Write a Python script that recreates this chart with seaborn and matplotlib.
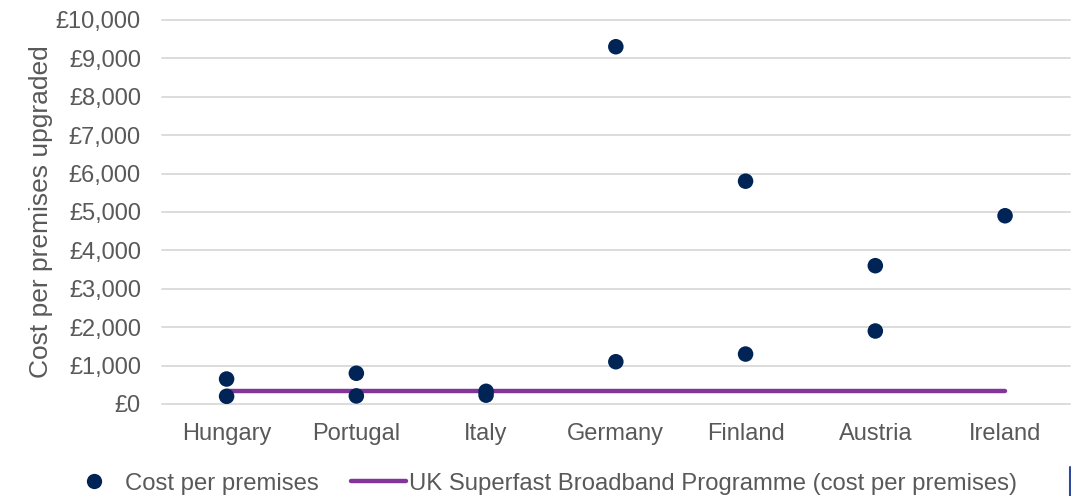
import matplotlib
matplotlib.use("Agg")
import matplotlib.pyplot as plt
from matplotlib.lines import Line2D
from matplotlib.ticker import FuncFormatter, MultipleLocator
import pandas as pd
import seaborn as sns

# Countries on the x axis
countries = ["Hungary", "Portugal", "Italy", "Germany", "Finland", "Austria", "Ireland"]

# Individual programme estimates (cost per premises upgraded, £)
point_country = ["Hungary", "Hungary", "Portugal", "Portugal", "Italy", "Italy",
                 "Germany", "Germany", "Finland", "Finland", "Austria", "Austria",
                 "Ireland"]
point_cost = [650, 200, 800, 210, 330, 230,
              9300, 1100, 5800, 1300, 3600, 1900,
              4900]

# UK Superfast Broadband Programme reference level (£ per premises)
uk_cost = [350, 350, 350, 350, 350, 350, 350]

NAVY = "#002456"
PURPLE = "#83369A"
GREY_TEXT = "#595959"
GRID = "#D9D9D9"

sns.set_theme(style="white")
plt.rcParams["font.family"] = ["Liberation Sans", "DejaVu Sans"]

points = pd.DataFrame({"country": pd.Categorical(point_country, categories=countries, ordered=True),
                       "cost": point_cost})
points["pos"] = points["country"].cat.codes
uk = pd.DataFrame({"pos": list(range(len(countries))), "cost": uk_cost})

fig = plt.figure(figsize=(10.71, 4.96), dpi=100)
ax = fig.add_axes([0.151, 0.1855, 0.848, 0.7745])

sns.lineplot(data=uk, x="pos", y="cost", ax=ax, color=PURPLE, linewidth=3.2,
             solid_capstyle="round", zorder=2, label="UK Superfast Broadband Programme (cost per premises)")
sns.scatterplot(data=points, x="pos", y="cost", ax=ax, color=NAVY, s=125,
                edgecolor="none", zorder=3, label="Cost per premises")

ax.set_xlim(-0.5, len(countries) - 0.5)
ax.set_ylim(0, 10000)
ax.set_xticks(range(len(countries)))
ax.set_xticklabels(countries)
ax.yaxis.set_major_locator(MultipleLocator(1000))
ax.yaxis.set_major_formatter(FuncFormatter(lambda v, _: f"£{v:,.0f}"))

ax.grid(axis="y", color=GRID, linewidth=1.3)
ax.grid(axis="x", visible=False)
for gl in ax.get_ygridlines():
    gl.set_clip_on(False)
ax.set_axisbelow(True)
for sp in ax.spines.values():
    sp.set_visible(False)

ax.tick_params(axis="both", length=0, labelsize=17, labelcolor=GREY_TEXT)
ax.tick_params(axis="y", pad=15)
ax.tick_params(axis="x", pad=14)
ax.set_xlabel("")
ax.set_ylabel("Cost per premises upgraded", fontsize=19, color=GREY_TEXT)
ax.yaxis.set_label_coords(-0.12, 0.502)

ax.get_legend().remove()
handles = [
    Line2D([], [], linestyle="none", marker="o", markersize=11, color=NAVY, markeredgecolor="none"),
    Line2D([], [], color=PURPLE, linewidth=3.2, solid_capstyle="round"),
]
labels = ["Cost per premises", "UK Superfast Broadband Programme (cost per premises)"]
fig.legend(handles, labels, loc="center", bbox_to_anchor=(0.506, 0.025), ncol=2,
           frameon=False, fontsize=17.2, labelcolor=GREY_TEXT, handlelength=2.3,
           handletextpad=0.15, columnspacing=1.35, borderaxespad=0)

# thin edge mark at the lower right corner
fig.add_artist(Line2D([1069.5 / 1071, 1069.5 / 1071], [0, 29 / 496],
                      color="#3047A0", linewidth=1.5, transform=fig.transFigure))

fig.savefig("out.png", dpi=100)
